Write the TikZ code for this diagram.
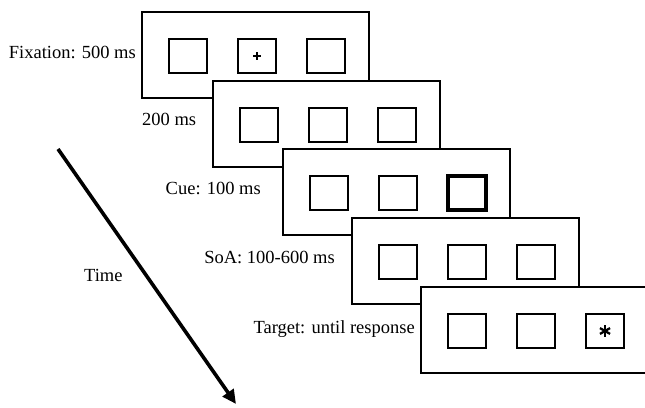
\documentclass[tikz,border=0pt]{standalone}
\usepackage{fontspec}
\setmainfont{Liberation Serif}
\usetikzlibrary{arrows.meta}
\begin{document}
\begin{tikzpicture}[x=1pt,y=-1pt,
  frame/.style={draw,fill=white,line width=1.6pt,minimum width=227pt,minimum height=86pt,inner sep=0pt},
  box/.style={draw,line width=1.9pt,minimum width=38pt,minimum height=34pt,inner sep=0pt},
  cuebox/.style={box,line width=3.6pt},
  lbl/.style={font=\fontsize{18.5}{22}\selectfont,inner sep=0pt},
  timearrow/.style={line width=3.6pt,-{Triangle[length=14pt,width=13pt]}}]
\clip (0,0) rectangle (645,407);
\fill[white] (0,0) rectangle (645,407);
\foreach \i/\x/\y/\s in {1/142/12/box,2/213/81/box,3/283/149/cuebox,4/352/218/box,5/421/287/box}{
  \node[frame] (f\i) at (\x+113.5,\y+43) {};
  \node[box] (b\i1) at (\x+46,\y+44) {};
  \node[box] (b\i2) at (\x+115,\y+44) {};
  \node[\s] (b\i3) at (\x+184,\y+44) {};
}
% fixation cross
\draw[line width=1.6pt] (b12.center) ++(-4,0) -- ++(8,0);
\draw[line width=1.6pt] (b12.center) ++(0,-4) -- ++(0,8);
% target asterisk
\foreach \a in {90,30,150}{
  \draw[line width=2.3pt] (b53.center) ++(\a:5.8) -- ++(\a+180:11.6);
}
% labels
\node[lbl,anchor=base east] (l1) at (136,58) {Fixation: 500 ms};
\node[lbl,anchor=base west] (l2) at (142,125) {200 ms};
\node[lbl,anchor=base east] (l3) at (261,194) {Cue: 100 ms};
\node[lbl,anchor=base east] (l4) at (335,263) {SoA: 100-600 ms};
\node[lbl,anchor=base east] (l5) at (415,333) {Target: until response};
\node[lbl,anchor=base west] (lt) at (84,281) {Time};
% time arrow
\coordinate (ts) at (58,149);
\coordinate (te) at (236,404);
\draw[timearrow] (ts) -- (te);
\end{tikzpicture}
\end{document}
